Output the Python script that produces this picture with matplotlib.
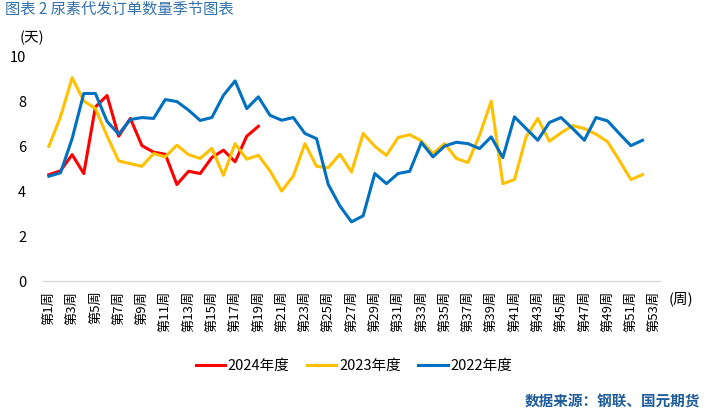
import numpy as np
import matplotlib
matplotlib.use("Agg")
import matplotlib.pyplot as plt

plt.rcParams['font.family'] = ['Noto Sans CJK SC', 'DejaVu Sans']

weeks = list(range(1, 54))
tick_weeks = list(range(1, 54, 2))
tick_labels = ['第{}周'.format(w) for w in tick_weeks]

y2024 = [4.73, 4.90, 5.62, 4.78, 7.74, 8.25, 6.44, 7.23, 6.02, 5.73,
         5.64, 4.29, 4.88, 4.78, 5.49, 5.82, 5.30, 6.44, 6.88]

y2023 = [5.99, 7.30, 9.04, 8.01, 7.67, 6.45, 5.34, 5.22, 5.10, 5.67,
         5.52, 6.04, 5.62, 5.45, 5.90, 4.70, 6.11, 5.42, 5.59, 4.90,
         4.00, 4.67, 6.11, 5.10, 5.04, 5.64, 4.85, 6.56, 5.99, 5.59,
         6.38, 6.51, 6.23, 5.67, 6.11, 5.45, 5.27, 6.48, 8.00, 4.33,
         4.51, 6.41, 7.23, 6.22, 6.59, 6.91, 6.78, 6.53, 6.19, 5.37,
         4.51, 4.73]

y2022 = [4.66, 4.81, 6.33, 8.34, 8.34, 7.10, 6.53, 7.18, 7.27, 7.23,
         8.07, 7.98, 7.60, 7.14, 7.27, 8.26, 8.90, 7.67, 8.19, 7.37,
         7.15, 7.27, 6.56, 6.33, 4.30, 3.34, 2.63, 2.90, 4.78, 4.33,
         4.78, 4.88, 6.16, 5.52, 6.00, 6.17, 6.11, 5.89, 6.41, 5.49,
         7.30, 6.78, 6.26, 7.05, 7.27, 6.78, 6.26, 7.27, 7.12, 6.56,
         6.02, 6.26]

fig = plt.figure(figsize=(7.17, 4.16), dpi=100)
ax = fig.add_axes([0.060, 0.3245, 0.8605, 0.5405])

ax.plot(weeks[:len(y2024)], y2024, color='#FF0000', lw=2.2, label='2024年度')
ax.plot(weeks[:len(y2023)], y2023, color='#FFC000', lw=2.2, label='2023年度')
ax.plot(weeks[:len(y2022)], y2022, color='#0070C0', lw=2.2, label='2022年度')

ax.set_xlim(0.5, 53.5)
ax.set_ylim(0, 10)
ax.set_yticks([0, 2, 4, 6, 8, 10])
ax.set_xticks(tick_weeks)
ax.set_xticklabels(tick_labels, rotation=90, fontsize=9.5)
ax.tick_params(axis='y', length=0, labelsize=10.5, pad=12)
ax.tick_params(axis='x', length=0, pad=7)

for s in ['top', 'right', 'left']:
    ax.spines[s].set_visible(False)
ax.spines['bottom'].set_color('#D9D9D9')
ax.spines['bottom'].set_linewidth(1)

fig.text(5 / 717, 1 - 9 / 416, '图表 2 尿素代发订单数量季节图表', fontsize=11,
         fontweight='medium', color='#3472AE', ha='left', va='center')
fig.text(32 / 717, 1 - 38 / 416, '(天)', fontsize=10.5, ha='center', va='center')
fig.text(681 / 717, 1 - 299 / 416, '(周)', fontsize=10.5, ha='center', va='center')
fig.text(700 / 717, 1 - 402 / 416, '数据来源：钢联、国元期货', fontsize=10.5,
         fontweight='bold', color='#1F5C99', ha='right', va='center')

fig.legend(loc='center', bbox_to_anchor=(354 / 717, 1 - 366 / 416), ncol=3,
           frameon=False, fontsize=10.5, handlelength=2.0, handletextpad=0.2,
           columnspacing=1.2)

fig.savefig('out.png', dpi=100)
